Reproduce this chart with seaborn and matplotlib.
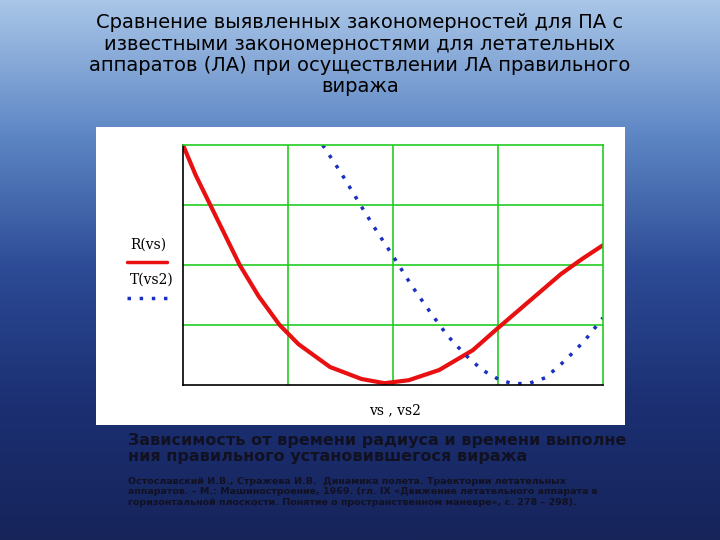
import numpy as np
import matplotlib.pyplot as plt
import seaborn as sns

# values (x, y in grid-cell units)
r_x = [0.0, 0.12, 0.26, 0.4, 0.54, 0.72, 0.92, 1.1, 1.4, 1.7, 1.92, 2.15, 2.44, 2.76, 3.0, 3.3, 3.6, 3.8, 4.0]
r_y = [4.0, 3.5, 3.0, 2.5, 2.0, 1.48, 1.0, 0.68, 0.3, 0.1, 0.03, 0.08, 0.25, 0.58, 0.95, 1.4, 1.85, 2.1, 2.33]
t_x = [1.33, 1.5, 1.69, 1.85, 2.0, 2.18, 2.36, 2.52, 2.69, 2.85, 3.02, 3.15, 3.3, 3.45, 3.59, 3.72, 3.83, 4.0]
t_y = [4.0, 3.55, 3.0, 2.55, 2.15, 1.65, 1.2, 0.82, 0.5, 0.25, 0.08, 0.02, 0.03, 0.12, 0.33, 0.55, 0.75, 1.12]

title = ("Сравнение выявленных закономерностей для ПА с\nизвестными закономерностями для летательных\n"
         "аппаратов (ЛА) при осуществлении ЛА правильного\nвиража")
caption = "Зависимость от времени радиуса и времени выполне\nния правильного установившегося виража"
source = ("Остославский И.В., Стражева И.В.  Динамика полета. Траектории летательных\n"
          "аппаратов. – М.: Машиностроение, 1969. (гл. IX «Движение летательного аппарата в\n"
          "горизонтальной плоскости. Понятие о пространственном маневре», с. 278 – 298).")

sns.set_theme(style="white")
plt.rcParams['font.family'] = ['DejaVu Sans']
fig = plt.figure(figsize=(7.2, 5.4), dpi=100)

# ocean-like background
bg = fig.add_axes([0, 0, 1, 1])
grad = np.linspace(0, 1, 256)[:, None]
cmap = sns.blend_palette(["#a9c6e8", "#5d86c4", "#2c4a95", "#1b2f72", "#16245a"], as_cmap=True)
bg.imshow(grad, aspect='auto', cmap=cmap, extent=[0, 1, 0, 1], origin='upper')
bg.axis('off')

fig.text(0.5, 0.975, title, ha='center', va='top', fontsize=14, color='black', linespacing=1.15)

# white chart panel
panel = fig.add_axes([96/720, 1-425/540, (625-96)/720, (425-127)/540])
panel.set_facecolor('white')
panel.set_xticks([]); panel.set_yticks([])
for s in panel.spines.values():
    s.set_visible(False)

ax = fig.add_axes([183/720, 1-385/540, 420/720, 240/540])
ax.set_xlim(0, 4); ax.set_ylim(0, 4)
ax.set_xticks([1, 2, 3]); ax.set_yticks([1, 2, 3])
ax.set_xticklabels([]); ax.set_yticklabels([])
ax.tick_params(length=0)
ax.grid(True, color='#22cc22', linewidth=1.2)
for s in ax.spines.values():
    s.set_color('#22cc22'); s.set_linewidth(1.2)
ax.spines['left'].set_color('black')
ax.spines['bottom'].set_color('black')
sns.lineplot(x=r_x, y=r_y, ax=ax, color='#e81010', linewidth=3, sort=False)
sns.lineplot(x=t_x, y=t_y, ax=ax, color='#1a30c0', linewidth=2.5, linestyle=(0, (1, 2.5)), sort=False)

fig.text(130/720, 1-245/540, "R(vs)", fontsize=10, family='DejaVu Serif', color='black', va='center')
fig.add_artist(plt.Line2D([127/720, 167/720], [1-262/540, 1-262/540], color='#e81010', lw=2.5))
fig.text(130/720, 1-280/540, "T(vs2)", fontsize=10, family='DejaVu Serif', color='black', va='center')
fig.add_artist(plt.Line2D([127/720, 167/720], [1-298/540, 1-298/540], color='#1a30c0', lw=2.5, ls=(0, (1, 2.5))))
fig.text(395/720, 1-410/540, "vs , vs2", fontsize=10, family='DejaVu Serif', color='black', ha='center', va='center')

fig.text(128/720, 1-433/540, caption, fontsize=11.5, fontweight='bold', color='#111122', va='top', linespacing=1.05)
fig.text(128/720, 1-477/540, source, fontsize=6.8, fontweight='bold', color='#111122', va='top', linespacing=1.2)

fig.savefig("out.png", dpi=100)
